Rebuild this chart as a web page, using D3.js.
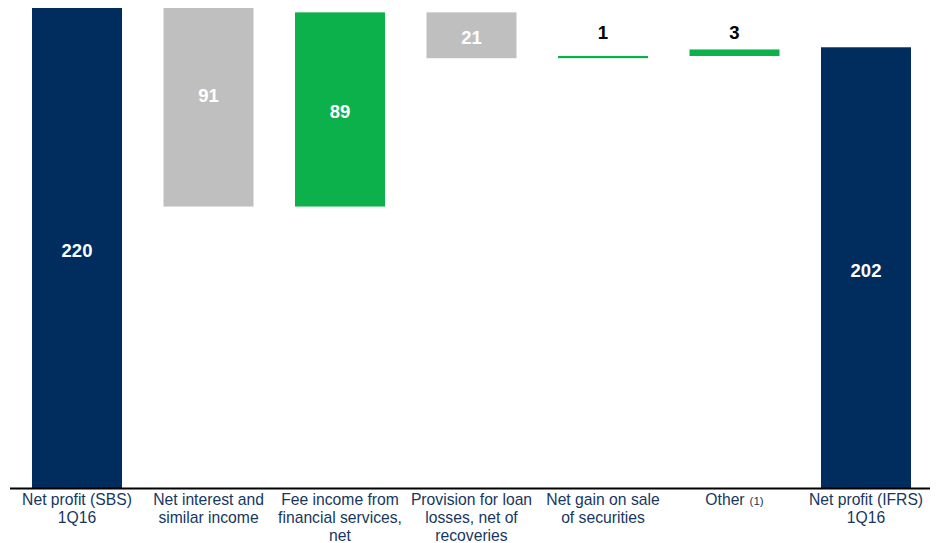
<!DOCTYPE html>
<html>
<head>
<meta charset="utf-8">
<script src="https://cdn.jsdelivr.net/npm/d3@7"></script>
<style>
  html, body { margin: 0; padding: 0; background: #fff; }
  svg { display: block; }
</style>
</head>
<body>
<svg id="chart" width="936" height="543"></svg>
<script>
// Bridge from SBS net profit to IFRS net profit, 1Q16
const categories = [
  ["Net profit (SBS)", "1Q16"],
  ["Net interest and", "similar income"],
  ["Fee income from", "financial services,", "net"],
  ["Provision for loan", "losses, net of", "recoveries"],
  ["Net gain on sale", "of securities"],
  ["Other"],
  ["Net profit (IFRS)", "1Q16"]
];
const footnotes = ["", "", "", "", "", "(1)", ""];
const values = [220, -91, 89, -21, 1, 3, 202];
const kinds = ["total", "delta", "delta", "delta", "delta", "delta", "total"];

const svg = d3.select("#chart");
const W = 936, H = 543;
const baseY = 488;

const colors = { total: "#002D5E", up: "#0DB14B", down: "#BFBFBF" };

// running totals give each floating bar its start and end
let run = 0;
const bars = values.map((v, i) => {
  let y0, y1;
  if (kinds[i] === "total") { y0 = 0; y1 = v; run = v; }
  else { y0 = run; y1 = run + v; run = y1; }
  return { i, v, y0, y1, kind: kinds[i] };
});

const x = d3.scaleBand()
  .domain(d3.range(categories.length))
  .range([11.25, 931.75])
  .paddingInner(0.3156)
  .paddingOuter(0.1578);

const y = d3.scaleLinear()
  .domain([0, 220])
  .range([baseY, 8]);

function fill(d) {
  if (d.kind === "total") return colors.total;
  return d.v >= 0 ? colors.up : colors.down;
}

const isThin = d => Math.abs(y(d.y0) - y(d.y1)) < 20;

svg.append("g").selectAll("rect")
  .data(bars)
  .join("rect")
  .attr("x", d => x(d.i))
  .attr("width", x.bandwidth())
  .attr("y", d => y(Math.max(d.y0, d.y1)))
  .attr("height", d => Math.max(1, Math.abs(y(d.y0) - y(d.y1))))
  .attr("fill", fill);

// baseline
svg.append("line")
  .attr("x1", 10).attr("x2", 930)
  .attr("y1", baseY + 0.5).attr("y2", baseY + 0.5)
  .attr("stroke", "#000").attr("stroke-width", 2);

// value labels: inside large bars, above thin ones (sharing one baseline)
const thinTop = d3.min(bars.filter(isThin), d => y(Math.max(d.y0, d.y1))) - 10;
const labelNudge = { 1: -14 };
svg.append("g").selectAll("text")
  .data(bars)
  .join("text")
  .attr("x", d => x(d.i) + x.bandwidth() / 2)
  .attr("y", d => {
    if (isThin(d)) return thinTop;
    const top = y(Math.max(d.y0, d.y1)), bot = y(Math.min(d.y0, d.y1));
    return (top + bot) / 2 + 9 + (labelNudge[d.i] || 0);
  })
  .attr("text-anchor", "middle")
  .attr("font-family", "Liberation Sans, Arial, sans-serif")
  .attr("font-weight", "bold")
  .attr("font-size", "18.5px")
  .attr("fill", d => isThin(d) ? "#000" : "#fff")
  .text(d => Math.abs(d.v));

// category labels
const cat = svg.append("g").selectAll("text")
  .data(categories)
  .join("text")
  .attr("x", (d, i) => x(i) + x.bandwidth() / 2)
  .attr("y", baseY + 17)
  .attr("text-anchor", "middle")
  .attr("font-family", "Liberation Sans, Arial, sans-serif")
  .attr("font-size", "15.7px")
  .attr("fill", "#17375E");

cat.each(function(lines, i) {
  const t = d3.select(this);
  lines.forEach((line, k) => {
    t.append("tspan")
      .attr("x", x(i) + x.bandwidth() / 2)
      .attr("dy", k === 0 ? 0 : 18)
      .text(line);
  });
  if (footnotes[i]) {
    t.append("tspan")
      .attr("font-size", "11.5px")
      .attr("dx", 5)
      .text(footnotes[i]);
  }
});
</script>
</body>
</html>
